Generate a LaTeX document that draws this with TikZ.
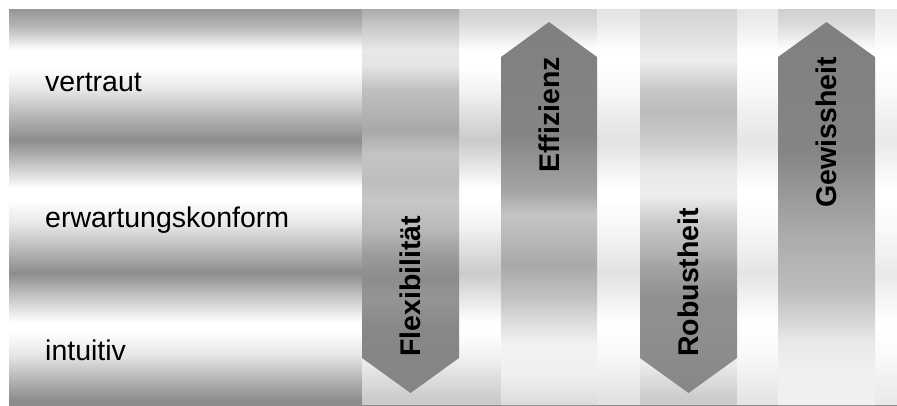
\documentclass[tikz,border=0pt]{standalone}
\usepackage{fontspec}
\setmainfont{Liberation Sans}
\pgfdeclareverticalshading{bgshade}{100bp}{color(0bp)=(black!45); color(25bp)=(black!45); color(25.63bp)=(black!45); color(28.16bp)=(black!30); color(31.31bp)=(black!10); color(34.22bp)=(white); color(35.48bp)=(white); color(38.64bp)=(black!22); color(41.67bp)=(black!45); color(44.57bp)=(black!28); color(47.73bp)=(black!10); color(50.88bp)=(white); color(52.40bp)=(white); color(55.68bp)=(black!25); color(58.46bp)=(black!45); color(61.62bp)=(black!28); color(64.77bp)=(black!10); color(67.55bp)=(white); color(69.82bp)=(white); color(72.98bp)=(black!30); color(75bp)=(black!41); color(100bp)=(black!41)}
\pgfdeclareverticalshading{flexshade}{100bp}{color(0bp)=(black!48); color(25bp)=(black!48); color(33.20bp)=(black!47); color(37.11bp)=(black!42); color(40.10bp)=(black!45); color(42.97bp)=(black!39); color(46.22bp)=(black!28); color(50.13bp)=(black!22); color(52.73bp)=(black!26); color(55.99bp)=(black!23); color(59.24bp)=(black!34); color(62.50bp)=(black!28); color(64.45bp)=(black!25); color(67.71bp)=(black!10); color(69.66bp)=(black!9); color(72.92bp)=(black!22); color(75bp)=(black!33); color(100bp)=(black!33)}
\pgfdeclareverticalshading{robshade}{100bp}{color(0bp)=(black!47); color(25bp)=(black!47); color(33.20bp)=(black!44); color(37.11bp)=(black!44); color(41.02bp)=(black!37); color(43.88bp)=(black!29); color(46.88bp)=(black!22); color(50.78bp)=(black!7); color(54.04bp)=(black!9); color(58.59bp)=(black!22); color(61.59bp)=(black!26); color(64.45bp)=(black!22); color(68.36bp)=(black!7); color(72.27bp)=(black!13); color(75bp)=(black!17); color(100bp)=(black!17)}
\pgfdeclareverticalshading{effshade}{100bp}{color(0bp)=(black!14); color(25bp)=(black!14); color(28.92bp)=(black!6); color(32.83bp)=(black!5); color(36.10bp)=(black!14); color(38.71bp)=(black!23); color(43.28bp)=(black!34); color(45.89bp)=(black!29); color(49.80bp)=(black!23); color(53.07bp)=(black!36); color(56.98bp)=(black!42); color(60.25bp)=(black!48); color(75bp)=(black!50); color(100bp)=(black!50)}
\pgfdeclareverticalshading{gewshade}{100bp}{color(0bp)=(black!6); color(25bp)=(black!6); color(29.57bp)=(black!6); color(33.49bp)=(black!9); color(36.75bp)=(black!18); color(40.01bp)=(black!26); color(43.28bp)=(black!29); color(47.19bp)=(black!33); color(51.76bp)=(black!39); color(58.29bp)=(black!48); color(75bp)=(black!50); color(100bp)=(black!50)}
\tikzset{
  lbl/.style={anchor=base west, inner sep=0pt, text=black, font=\fontsize{28.5}{34}\selectfont},
  arrlbl/.style={rotate=90, inner sep=0pt, text=black, font=\fontsize{28.5}{34}\selectfont\bfseries},
  mute/.style={fill=white, fill opacity=0.55, draw=none}
}
\begin{document}
\begin{tikzpicture}[x=1pt, y=-1pt]
\useasboundingbox (0,0) rectangle (897,405);
\fill[white] (0,0) rectangle (897,405);
% banded metallic background
\shade[shading=bgshade] (9,9) rectangle (897,405);
% muted column area
\fill[mute] (362,9) rectangle (897,405);
\fill[mute, fill opacity=0.45] (597,9) rectangle (640,405);
\fill[mute, fill opacity=0.5] (737,9) rectangle (778,405);
\fill[mute, fill opacity=0.6] (875,9) rectangle (897,405);
% arrows
\shade[shading=flexshade] (362,9) -- (459,9) -- (459,358) -- (410.5,393) -- (362,358) -- cycle;
\shade[shading=effshade] (501,405) -- (501,57) -- (549,22) -- (597,57) -- (597,405) -- cycle;
\shade[shading=robshade] (640,9) -- (737,9) -- (737,358) -- (688.5,393) -- (640,358) -- cycle;
\shade[shading=gewshade] (778,405) -- (778,57) -- (826.5,22) -- (875,57) -- (875,405) -- cycle;
% left labels
\node[lbl] (vertraut) at (45,91) {vertraut};
\node[lbl] (erwartung) at (45,227) {erwartungskonform};
\node[lbl] (intuitiv) at (45,360) {intuitiv};
% arrow labels
\node[arrlbl, anchor=base west] (flex) at (420.7,357) {Flexibilität};
\node[arrlbl, anchor=base east] (eff) at (559.2,57) {Effizienz};
\node[arrlbl, anchor=base west] (rob) at (698.7,357) {Robustheit};
\node[arrlbl, anchor=base east] (gew) at (836.7,57) {Gewissheit};
\end{tikzpicture}
\end{document}
